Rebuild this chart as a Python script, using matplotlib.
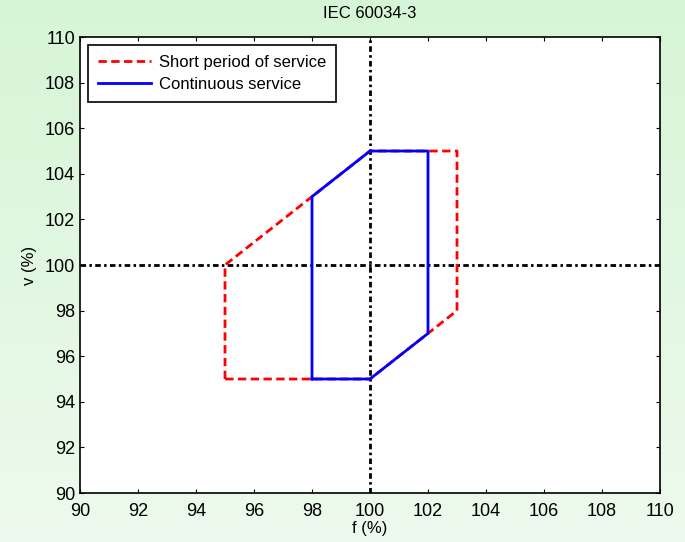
import numpy as np
import matplotlib.pyplot as plt

plt.rcParams['font.family'] = ['Liberation Sans', 'DejaVu Sans']

# operating regions (frequency %, voltage %)
short_f = [95, 95, 100, 103, 103, 100, 95]
short_v = [95, 100, 105, 105, 98, 95, 95]
cont_f = [98, 98, 100, 102, 102, 100, 98]
cont_v = [95, 103, 105, 105, 97, 95, 95]
ticks = [90, 92, 94, 96, 98, 100, 102, 104, 106, 108, 110]

fig = plt.figure(figsize=(6.85, 5.42), dpi=100)

# light green gradient behind everything
bg = fig.add_axes([0, 0, 1, 1], zorder=-1)
grad = np.linspace(0, 1, 256)[:, None]
top = np.array([0.84, 0.96, 0.84])
bottom = np.array([0.93, 0.98, 0.93])
img = top + (bottom - top) * grad[:, :, None]
bg.imshow(img, aspect='auto', extent=[0, 1, 0, 1])
bg.axis('off')

ax = fig.add_axes([0.1168, 0.0904, 0.8467, 0.8413])
ax.set_facecolor('white')

dashdot = (2.0, 1.2, 0.9, 1.2)
ax.axvline(100, color='black', lw=2, dashes=dashdot)
ax.axhline(100, color='black', lw=2, dashes=dashdot)
ax.plot(short_f, short_v, 'r', lw=2, dashes=(3, 1.6), label='Short period of service')
ax.plot(cont_f, cont_v, 'b-', lw=2, label='Continuous service')

ax.set_xlim(90, 110)
ax.set_ylim(90, 110)
ax.set_xticks(ticks)
ax.set_yticks(ticks)
ax.tick_params(direction='in', top=True, right=True, labelsize=13, length=3)
ax.tick_params(axis='x', pad=7)
for s in ax.spines.values():
    s.set_linewidth(1.2)

ax.set_xlabel('f (%)', fontsize=12, labelpad=1)
ax.set_ylabel('v (%)', fontsize=12, labelpad=6)
ax.set_title('IEC 60034-3', fontsize=12, pad=14)

leg = ax.legend(loc='upper left', fontsize=12, fancybox=False, framealpha=1,
                edgecolor='black', handlelength=3.2, handletextpad=0.5,
                labelspacing=0.45, borderpad=0.6, borderaxespad=0.45)
leg.get_frame().set_linewidth(1.2)

fig.savefig('out.png', dpi=100)
